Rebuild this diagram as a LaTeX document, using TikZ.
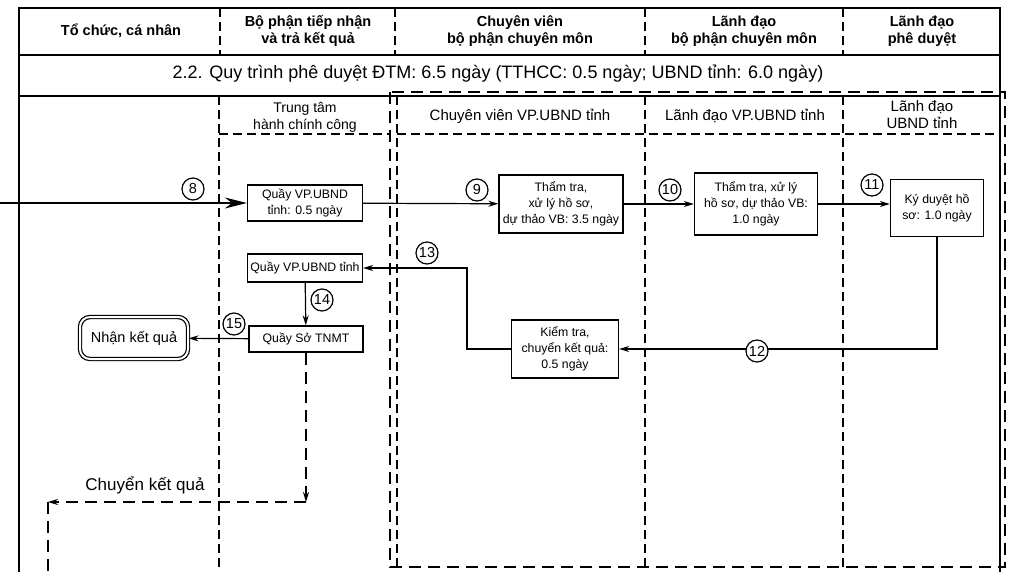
\documentclass[tikz,border=0pt]{standalone}
\usepackage{fontspec}
\setmainfont{Liberation Sans}
\usetikzlibrary{arrows.meta,positioning,calc}

\begin{document}
\begin{tikzpicture}[
  x=1pt, y=-1pt,
  >={Stealth[length=10pt,width=6pt]},
  box/.style={draw, line width=1.3pt, align=center, inner sep=2pt, font=\fontsize{12.3}{16}\selectfont},
  num/.style={draw, circle, fill=white, line width=1.2pt, inner sep=0pt, minimum size=22pt, font=\fontsize{14.5}{14.5}\selectfont},
  head/.style={align=center, font=\bfseries\fontsize{14.5}{17}\selectfont},
  sub/.style={align=center, font=\fontsize{15}{17}\selectfont},
  lane/.style={line width=1.1pt, dash pattern=on 9pt off 5pt},
  frame/.style={line width=1.4pt},
  bigdash/.style={line width=2.4pt, dash pattern=on 12pt off 7pt},
  flow/.style={draw, ->, line width=1.2pt},
  every edge/.style={flow}
]
\useasboundingbox (0,0) rectangle (1009,571);
\draw[frame] (19,580) -- (19,8) -- (1000,8) -- (1000,580);
\draw[frame] (19,55) -- (1000,55);
\draw[frame] (19,96) -- (1000,96);
\foreach \x in {220,395,645,843} \draw[lane] (\x,8) -- (\x,55);
\foreach \x in {219,397,645,843} \draw[lane] (\x,96) -- (\x,580);
\draw[lane] (219,134) -- (390,134);
\draw[lane] (397,134) -- (1000,134);
\draw[bigdash] (390,92) rectangle (1005,567);

\node[head] (h1) at (121,31) {Tổ chức, cá nhân};
\node[head] (h2) at (308,31) {Bộ phận tiếp nhận\\và trả kết quả};
\node[head] (h3) at (520,31) {Chuyên viên\\bộ phận chuyên môn};
\node[head] (h4) at (744,31) {Lãnh đạo\\bộ phận chuyên môn};
\node[head] (h5) at (922,31) {Lãnh đạo\\phê duyệt};
\node[font=\fontsize{18}{20}\selectfont] (title) at (498,74) {2.2. Quy trình phê duyệt ĐTM: 6.5 ngày (TTHCC: 0.5 ngày; UBND tỉnh: 6.0 ngày)};
\node[sub, font=\fontsize{14}{17}\selectfont] (s1) at (305,117) {Trung tâm\\hành chính công};
\node[sub] (s2) at (520,116) {Chuyên viên VP.UBND tỉnh};
\node[sub] (s3) at (745,116) {Lãnh đạo VP.UBND tỉnh};
\node[sub] (s4) at (922,115) {Lãnh đạo\\UBND tỉnh};

\node[box, minimum width=115pt, minimum height=36pt] (qvp1) at (305,203) {Quầy VP.UBND\\tỉnh: 0.5 ngày};
\node[box, minimum width=124pt, minimum height=58pt] (tt1) at (561,204) {Thẩm tra,\\xử lý hồ sơ,\\dự thảo VB: 3.5 ngày};
\node[box, minimum width=123pt, minimum height=62pt] (tt2) at (756,204) {Thẩm tra, xử lý\\hồ sơ, dự thảo VB:\\1.0 ngày};
\node[box, minimum width=93pt, minimum height=57pt] (kd) at (937,208) {Ký duyệt hồ\\sơ: 1.0 ngày};
\node[box, minimum width=107pt, minimum height=58pt] (kt) at (565,349) {Kiểm tra,\\chuyển kết quả:\\0.5 ngày};
\node[box, minimum width=115pt, minimum height=28pt] (qvp2) at (305,268) {Quầy VP.UBND tỉnh};
\node[box, minimum width=114pt, minimum height=26pt] (qso) at (306,339) {Quầy Sở TNMT};
\node[draw, double, double distance=2pt, line width=1.2pt, rounded corners=10pt, minimum width=108pt, minimum height=42pt, font=\fontsize{14.5}{16}\selectfont] (nkq) at (134,338) {Nhận kết quả};

\coordinate (in) at (0,203);
\coordinate (bend13) at (467,349);
\coordinate (d1) at (306,502);
\coordinate (d2) at (48,502);
\coordinate (d3) at (48,580);

\draw[flow, -{Stealth[length=22pt,width=11pt]}] (in) -- (qvp1.west);
\draw (qvp1) edge (tt1);
\draw (tt1) edge (tt2);
\draw (tt2) edge (tt2 -| kd.west);
\draw[flow] (kd.south) |- (kt.east);
\draw[flow] (kt.west) -- (bend13) |- (qvp2.east);
\draw (qvp2) edge (qso);
\draw (qso) edge (nkq);
\draw[bigdash, ->] (qso.south) -- (d1);
\draw[bigdash, ->] (d1) -- (d2);
\draw[bigdash] (d2) -- (d3);
\node[font=\fontsize{17}{19}\selectfont] (ckq) at (145,485) {Chuyển kết quả};

\node[num] (n8) at (193,189) {8};
\node[num] (n9) at (477,190) {9};
\node[num] (n10) at (670,190) {10};
\node[num] (n11) at (872,185) {11};
\node[num] (n12) at (757,351) {12};
\node[num] (n13) at (427,253) {13};
\node[num] (n14) at (322,300) {14};
\node[num] (n15) at (234,324) {15};
\end{tikzpicture}
\end{document}
